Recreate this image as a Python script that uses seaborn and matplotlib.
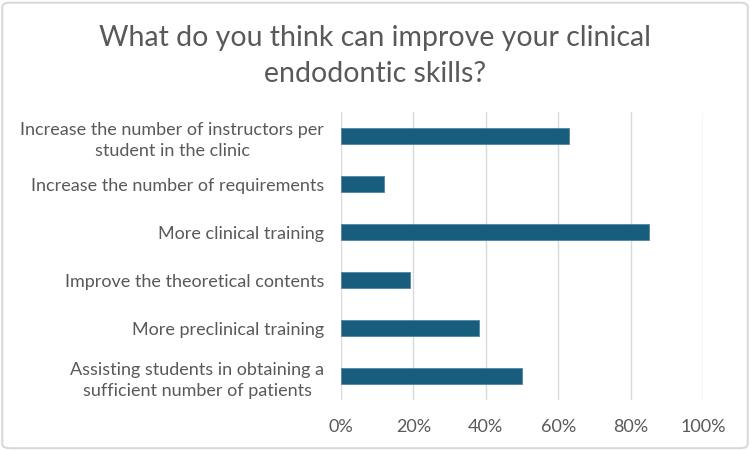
import pandas as pd
import seaborn as sns
import matplotlib.pyplot as plt
from matplotlib.ticker import PercentFormatter
from matplotlib.patches import FancyBboxPatch

options = [
    "Increase the number of instructors per\nstudent in the clinic",
    "Increase the number of requirements",
    "More clinical training",
    "Improve the theoretical contents",
    "More preclinical training",
    "Assisting students in obtaining a\nsufficient number of patients",
]
shares = [0.63, 0.12, 0.85, 0.19, 0.38, 0.50]

data = pd.DataFrame({"option": options, "share": shares})

sns.set_style("white")
plt.rcParams['font.family'] = ['Lato', 'DejaVu Sans']

fig = plt.figure(figsize=(7.5, 4.5), dpi=100)
ax = fig.add_axes([0.4547, 0.111, 0.4826, 0.640])

sns.barplot(data=data, x="share", y="option", orient="h", color="#175e7e",
            saturation=1, width=0.35, edgecolor="#4f87a3", linewidth=0.6, ax=ax)

ax.set_xlim(0, 1)
ax.xaxis.set_major_formatter(PercentFormatter(1.0, decimals=0))
ax.set_xticks([0, 0.2, 0.4, 0.6, 0.8, 1.0])
ax.grid(axis="x", color="#d9d9d9", linewidth=1)
ax.set_axisbelow(True)
for s in ax.spines.values():
    s.set_visible(False)
ax.set_xlabel("")
ax.set_ylabel("")
ax.tick_params(axis="x", length=0, pad=14, labelsize=13, labelcolor="#595959")
ax.tick_params(axis="y", length=0, pad=12, labelsize=13, labelcolor="#595959")
for t in ax.get_yticklabels():
    t.set_multialignment("center")
    t.set_linespacing(1.4)

fig.text(0.5, 0.876, "What do you think can improve your clinical\nendodontic skills?",
         ha="center", va="center", fontsize=20.5, color="#595959", linespacing=1.5)

fig.patches.append(FancyBboxPatch((0.003, 0.004), 0.994, 0.99, boxstyle="round,pad=0,rounding_size=0.01",
                                  transform=fig.transFigure, fill=False, edgecolor="#d9d9d9", linewidth=1.5))

fig.savefig("out.png", dpi=100)
